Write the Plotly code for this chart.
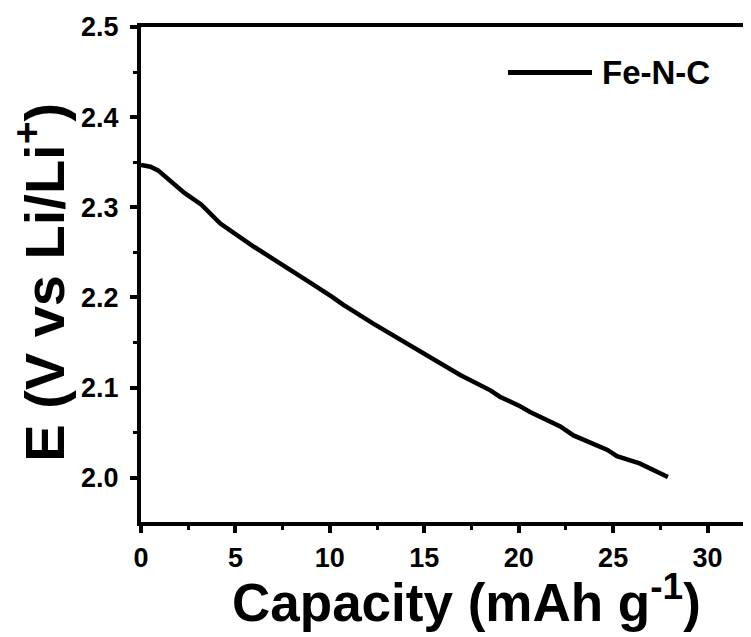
import plotly.graph_objects as go

# Data
capacity = [0, 0.5, 0.9, 1.4, 2.3, 3.2, 4.2, 6.0, 7.4, 9.0, 10.1, 10.7, 12.3, 13.9,
            15.3, 16.9, 18.5, 19.0, 20.1, 20.6, 22.2, 22.9, 24.7, 25.2, 26.4, 27.9]
potential = [2.347, 2.345, 2.341, 2.332, 2.316, 2.303, 2.282, 2.256, 2.238, 2.216,
             2.201, 2.192, 2.171, 2.151, 2.134, 2.114, 2.097, 2.090, 2.079, 2.073,
             2.057, 2.047, 2.031, 2.024, 2.016, 2.001]
series_name = "Fe-N-C"
x_ticks = [0, 5, 10, 15, 20, 25, 30]
y_ticks = [2.0, 2.1, 2.2, 2.3, 2.4, 2.5]
x_title = "Capacity (mAh g<sup>-1</sup>)"
y_title = "E (V vs Li/Li<sup>+</sup>)"

FONT = "Arial, Liberation Sans, Helvetica, sans-serif"

fig = go.Figure()
fig.add_trace(go.Scatter(
    x=capacity, y=potential, mode="lines", name=series_name,
    line=dict(color="black", width=4.5), showlegend=False,
))

axis_common = dict(
    showgrid=False, zeroline=False, showline=True, linecolor="black", linewidth=4,
    ticks="outside", ticklen=7, tickwidth=4, tickcolor="black",
    tickfont=dict(family=FONT, size=27, color="black", weight="bold"),
)

fig.update_xaxes(
    **axis_common, range=[0, 32.3], tickvals=x_ticks, mirror=True, ticklabelstandoff=2,
    minor=dict(ticks="outside", ticklen=4, tickwidth=3, tickcolor="black", dtick=2.5, tick0=0),
)
fig.update_yaxes(
    **axis_common, range=[1.951, 2.5], tickvals=y_ticks, tickformat=".1f", ticklabelstandoff=6,
    minor=dict(ticks="outside", ticklen=4, tickwidth=3, tickcolor="black", dtick=0.05, tick0=2.0),
)

# Axis titles (positioned as in the reference, where the x axis runs past the right edge)
fig.add_annotation(xref="paper", yref="paper", x=(466 - 141) / 610, y=(522 - 598) / 494.5,
                   text=x_title, showarrow=False, xanchor="center", yanchor="middle",
                   font=dict(family=FONT, size=53, color="black", weight="bold"))
fig.add_annotation(xref="paper", yref="paper", x=(41 - 141) / 610, y=(522 - 283) / 494.5,
                   text=y_title, showarrow=False, xanchor="center", yanchor="middle",
                   textangle=-90,
                   font=dict(family=FONT, size=56, color="black", weight="bold"))

# Legend drawn manually (long line sample as in reference)
fig.add_shape(type="line", xref="paper", yref="paper",
              x0=(508 - 141) / 610, x1=(592 - 141) / 610,
              y0=(522 - 73) / 494.5, y1=(522 - 73) / 494.5,
              line=dict(color="black", width=5))
fig.add_annotation(xref="paper", yref="paper", x=(600 - 141) / 610, y=(522 - 73) / 494.5,
                   text=series_name, showarrow=False, xanchor="left", yanchor="middle",
                   font=dict(family=FONT, size=33, color="black", weight="bold"))

# page body has an 8px margin, so the figure is sized/offset to fill the window
fig.update_layout(
    width=743, height=629,
    margin=dict(l=133, r=0, t=19, b=115),
    paper_bgcolor="white", plot_bgcolor="white",
    showlegend=False,
)

fig.write_html("out.html")
